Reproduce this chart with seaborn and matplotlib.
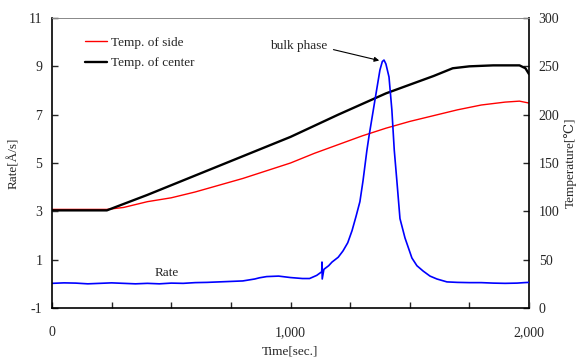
import numpy as np
import pandas as pd
import seaborn as sns
import matplotlib.pyplot as plt
from matplotlib.ticker import FixedLocator, MultipleLocator, FuncFormatter

# Temperature of side (red)
side_time = [0, 100, 230, 300, 400, 500, 600, 700, 800, 900, 1000, 1100, 1200,
             1300, 1400, 1500, 1600, 1700, 1800, 1900, 1960, 2000]
side_temp = [102, 102, 102, 104, 110, 114, 120, 127, 134, 142, 150, 160, 169,
             178, 186, 193, 199, 205, 210, 213, 214, 212]

# Temperature of center (black)
center_time = [0, 100, 230, 400, 600, 800, 1000, 1200, 1400, 1600, 1680, 1750,
               1850, 1960, 1985, 2000]
center_temp = [101, 101, 101, 117, 137, 157, 177, 200, 222, 240, 248, 250,
               251, 251, 248, 242]

# Rate (blue)
rate_time = [0, 50, 100, 150, 200, 250, 300, 350, 400, 450, 500, 550, 600, 650,
             700, 750, 800, 850, 870, 900, 950, 1000, 1050, 1080, 1110, 1131,
             1132, 1133, 1140, 1160, 1174, 1200, 1220, 1240, 1258, 1275, 1291,
             1304, 1320, 1329, 1354, 1375, 1385, 1392, 1400, 1413, 1425, 1435,
             1446, 1459, 1480, 1509, 1530, 1556, 1585, 1614, 1656, 1700, 1750,
             1800, 1850, 1900, 1950, 1980, 2000]
rate_val = [0.02, 0.04, 0.03, 0.0, 0.02, 0.04, 0.02, 0.0, 0.02, 0.0, 0.03, 0.02,
            0.05, 0.06, 0.08, 0.1, 0.12, 0.2, 0.25, 0.3, 0.32, 0.26, 0.22, 0.22,
            0.35, 0.5, 0.9, 0.2, 0.6, 0.75, 0.9, 1.1, 1.36, 1.7, 2.2, 2.8, 3.4,
            4.26, 5.5, 6.1, 7.6, 8.85, 9.2, 9.26, 9.1, 8.56, 7.2, 5.54, 4.26,
            2.7, 1.9, 1.07, 0.75, 0.53, 0.32, 0.2, 0.08, 0.06, 0.05, 0.05, 0.03,
            0.02, 0.03, 0.05, 0.06]

side = pd.DataFrame({"Time": side_time, "Temp": side_temp})
center = pd.DataFrame({"Time": center_time, "Temp": center_temp})
rate = pd.DataFrame({"Time": rate_time, "Rate": rate_val})

sns.set_style("ticks")
plt.rcParams['font.family'] = ['Liberation Serif', 'DejaVu Serif']
plt.rcParams['axes.unicode_minus'] = False
plt.rcParams['font.size'] = 9.5

fig = plt.figure(figsize=(5.8, 3.62), dpi=100)
ax = fig.add_axes([52 / 580, 1 - 308 / 362, 477 / 580, 290 / 362])
ax2 = ax.twinx()

# temperatures on the right axis
sns.lineplot(data=side, x="Time", y="Temp", ax=ax2, color="#ff0000", lw=1.0,
             label="Temp. of side")
sns.lineplot(data=center, x="Time", y="Temp", ax=ax2, color="black", lw=1.7,
             label="Temp. of center")

# rate on the left axis, drawn above the temperatures
sns.lineplot(data=rate, x="Time", y="Rate", ax=ax, color="#0000ff", lw=1.2)
ax.set_zorder(ax2.get_zorder() + 1)
ax.patch.set_visible(False)

ax.set_xlim(0, 2000)
ax.set_ylim(-1, 11)
ax2.set_ylim(0, 300)

ax.yaxis.set_major_locator(FixedLocator([-1, 1, 3, 5, 7, 9, 11]))
ax2.yaxis.set_major_locator(MultipleLocator(50))
ax.xaxis.set_major_locator(FixedLocator([0, 1000, 2000]))
ax.xaxis.set_minor_locator(MultipleLocator(250))
ax.xaxis.set_major_formatter(FuncFormatter(lambda v, p: f"{v:,.0f}"))

ax.tick_params(axis="y", direction="in", length=4, width=1, pad=7, labelsize=10)
ax.tick_params(axis="x", which="both", direction="in", length=4, width=1,
               pad=13, labelsize=10)
ax2.tick_params(axis="y", direction="in", length=4, width=1, pad=7, labelsize=10)

ax.set_xlabel("Time[sec.]", fontsize=9.5, labelpad=5)
ax.set_ylabel("Rate[Å/s]", fontsize=9.5, labelpad=6)
ax2.set_ylabel("Temperature[℃]", fontsize=9.5, labelpad=3)

for s in ["left", "bottom"]:
    ax.spines[s].set_color("black")
    ax.spines[s].set_linewidth(1.2)
ax.spines["right"].set_visible(False)
ax.spines["top"].set_color("#888888")
ax.spines["top"].set_linewidth(0.7)
ax2.spines["right"].set_color("black")
ax2.spines["right"].set_linewidth(1.2)
for s in ["left", "bottom", "top"]:
    ax2.spines[s].set_visible(False)

ax2.legend(loc="upper left", bbox_to_anchor=(0.069, 0.935), frameon=False,
           borderpad=0, borderaxespad=0, handlelength=1.7, handletextpad=0.3,
           labelspacing=0.6, fontsize=9.5)

ax.text(480, 0.45, "Rate", ha="center", va="center", fontsize=9.5)
ax.annotate("bulk phase", xy=(1372, 9.24), xytext=(1155, 9.85),
            ha="right", va="center", fontsize=9.5,
            arrowprops=dict(arrowstyle="-|>", color="black", lw=0.8,
                            shrinkA=2, shrinkB=0, relpos=(1.0, 0.3),
                            mutation_scale=7))

fig.savefig("out.png", dpi=100)
